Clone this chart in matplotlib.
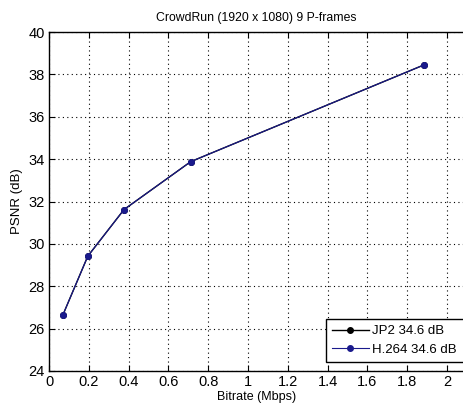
import matplotlib
matplotlib.use("Agg")
import matplotlib.pyplot as plt

bitrate = [0.07, 0.195, 0.377, 0.712, 1.885]
psnr_jp2 = [26.65, 29.42, 31.62, 33.88, 38.45]
psnr_h264 = [26.65, 29.42, 31.62, 33.88, 38.45]
xticks = [0, 0.2, 0.4, 0.6, 0.8, 1, 1.2, 1.4, 1.6, 1.8, 2]
xticklabels = ["0", "0.2", "0.4", "0.6", "0.8", "1", "1.2", "1.4", "1.6", "1.8", "2"]
yticks = [24, 26, 28, 30, 32, 34, 36, 38, 40]

plt.rcParams['font.family'] = ['Liberation Sans', 'DejaVu Sans']

fig = plt.figure(figsize=(4.63, 4.07), dpi=100)
ax = fig.add_axes([49/463, 1-371/407, 1-49/463 + 0.002, (371-32)/407])

ax.plot(bitrate, psnr_jp2, color='black', marker='o', markersize=4, linewidth=1.0, label='JP2 34.6 dB')
ax.plot(bitrate, psnr_h264, color='#1a1a8c', marker='o', markersize=4, linewidth=0.8, label='H.264 34.6 dB')

ax.set_xlim(0, 2.085)
ax.set_ylim(24, 40)
ax.set_xticks(xticks)
ax.set_xticklabels(xticklabels)
ax.set_yticks(yticks)
ax.tick_params(direction='in', labelsize=10.5, length=4, top=True, pad=3)
ax.grid(True, linestyle=(0, (1, 3)), color='black', linewidth=0.8)
ax.spines['right'].set_visible(False)
for s in ['left', 'bottom', 'top']:
    ax.spines[s].set_linewidth(1.0)

ax.set_title('CrowdRun (1920 x 1080) 9 P-frames', fontsize=8.8, pad=8)
ax.set_xlabel('Bitrate (Mbps)', fontsize=9, labelpad=1)
ax.set_ylabel('PSNR (dB)', fontsize=9.5, labelpad=4)

leg = ax.legend(loc='lower left', fontsize=9.5, fancybox=False, framealpha=1,
                edgecolor='black', borderpad=0.45, handlelength=2.8, handletextpad=0.25,
                borderaxespad=0, mode='expand',
                bbox_to_anchor=(277/415, 9/339, 0.4, 0.12))
leg.get_frame().set_linewidth(1.0)

fig.savefig('out.png', dpi=100)
